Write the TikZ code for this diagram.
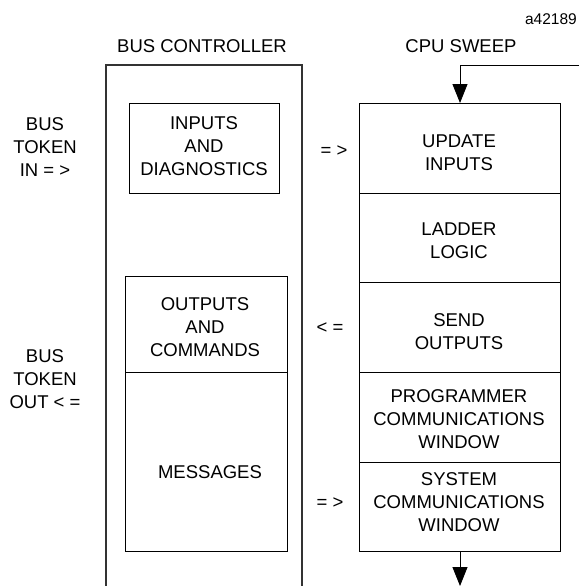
\documentclass[tikz,border=0pt]{standalone}
\usepackage{fontspec}
\setmainfont{Liberation Sans}
\usetikzlibrary{arrows.meta}
\tikzset{
  box/.style={draw=black, line width=0.9pt, inner sep=0pt, outer sep=0pt},
  wall/.style={draw=black!80, line width=1.1pt},
  txt/.style={font=\fontsize{18.5}{23}\selectfont, align=center, inner sep=0pt},
  flow/.style={draw=black, line width=0.9pt, -{Triangle[length=19pt,width=15pt]}},
}
\begin{document}
\begin{tikzpicture}[x=1pt,y=-1pt]
\useasboundingbox (0,0) rectangle (579,586);
% outer bus controller (open bottom)
\coordinate (bcbl) at (106,586);
\coordinate (bctl) at (106,65);
\coordinate (bctr) at (302,65);
\coordinate (bcbr) at (302,586);
\draw[wall] (bcbl) -- (bctl) -- (bctr) -- (bcbr);
% inner boxes
\node[box, minimum width=150pt, minimum height=90pt] (inbox) at (204,148) {};
\node[box, minimum width=162pt, minimum height=96pt] (outbox) at (206,324) {};
\node[box, minimum width=162pt, minimum height=179pt] (msgbox) at (206,461.5) {};
% CPU sweep boxes
\node[box, minimum width=201pt, minimum height=90pt] (upd) at (459.5,148) {};
\node[box, minimum width=201pt, minimum height=89pt] (lad) at (459.5,237.5) {};
\node[box, minimum width=201pt, minimum height=90pt] (snd) at (459.5,327) {};
\node[box, minimum width=201pt, minimum height=90pt] (prg) at (459.5,417) {};
\node[box, minimum width=201pt, minimum height=89pt] (sys) at (459.5,506.5) {};
% texts
\node[txt, font=\fontsize{15.5}{18}\selectfont, anchor=east] (code) at (577,19) {a42189};
\node[txt] (bctitle) at (202,46) {BUS CONTROLLER};
\node[txt] (cputitle) at (461,46) {CPU SWEEP};
\node[txt] (tokin) at (45,147) {BUS\\TOKEN\\IN = >};
\node[txt] (tokout) at (45,379) {BUS\\TOKEN\\OUT < =};
\node[txt] (intext) at (204,146) {INPUTS\\AND\\DIAGNOSTICS};
\node[txt] (outtext) at (205,327) {OUTPUTS\\AND\\COMMANDS};
\node[txt] (msgtext) at (210,472) {MESSAGES};
\node[txt] (updtext) at (459,153) {UPDATE\\INPUTS};
\node[txt] (ladtext) at (459,241) {LADDER\\LOGIC};
\node[txt] (sndtext) at (459,332) {SEND\\OUTPUTS};
\node[txt] (prgtext) at (459,419) {PROGRAMMER\\COMMUNICATIONS\\WINDOW};
\node[txt] (systext) at (459,502) {SYSTEM\\COMMUNICATIONS\\WINDOW};
\node[txt] (xa) at (334,151) {= >};
\node[txt] (xb) at (330,328) {< =};
\node[txt] (xc) at (330,503) {= >};
% flow arrows
\coordinate (loopin) at (579,65);
\coordinate (loopc) at (460,65);
\coordinate (exit) at (460,586);
\draw[flow] (loopin) -- (loopc) -- (upd.north -| loopc);
\draw[flow] (sys.south -| exit) -- (exit);
\end{tikzpicture}
\end{document}
